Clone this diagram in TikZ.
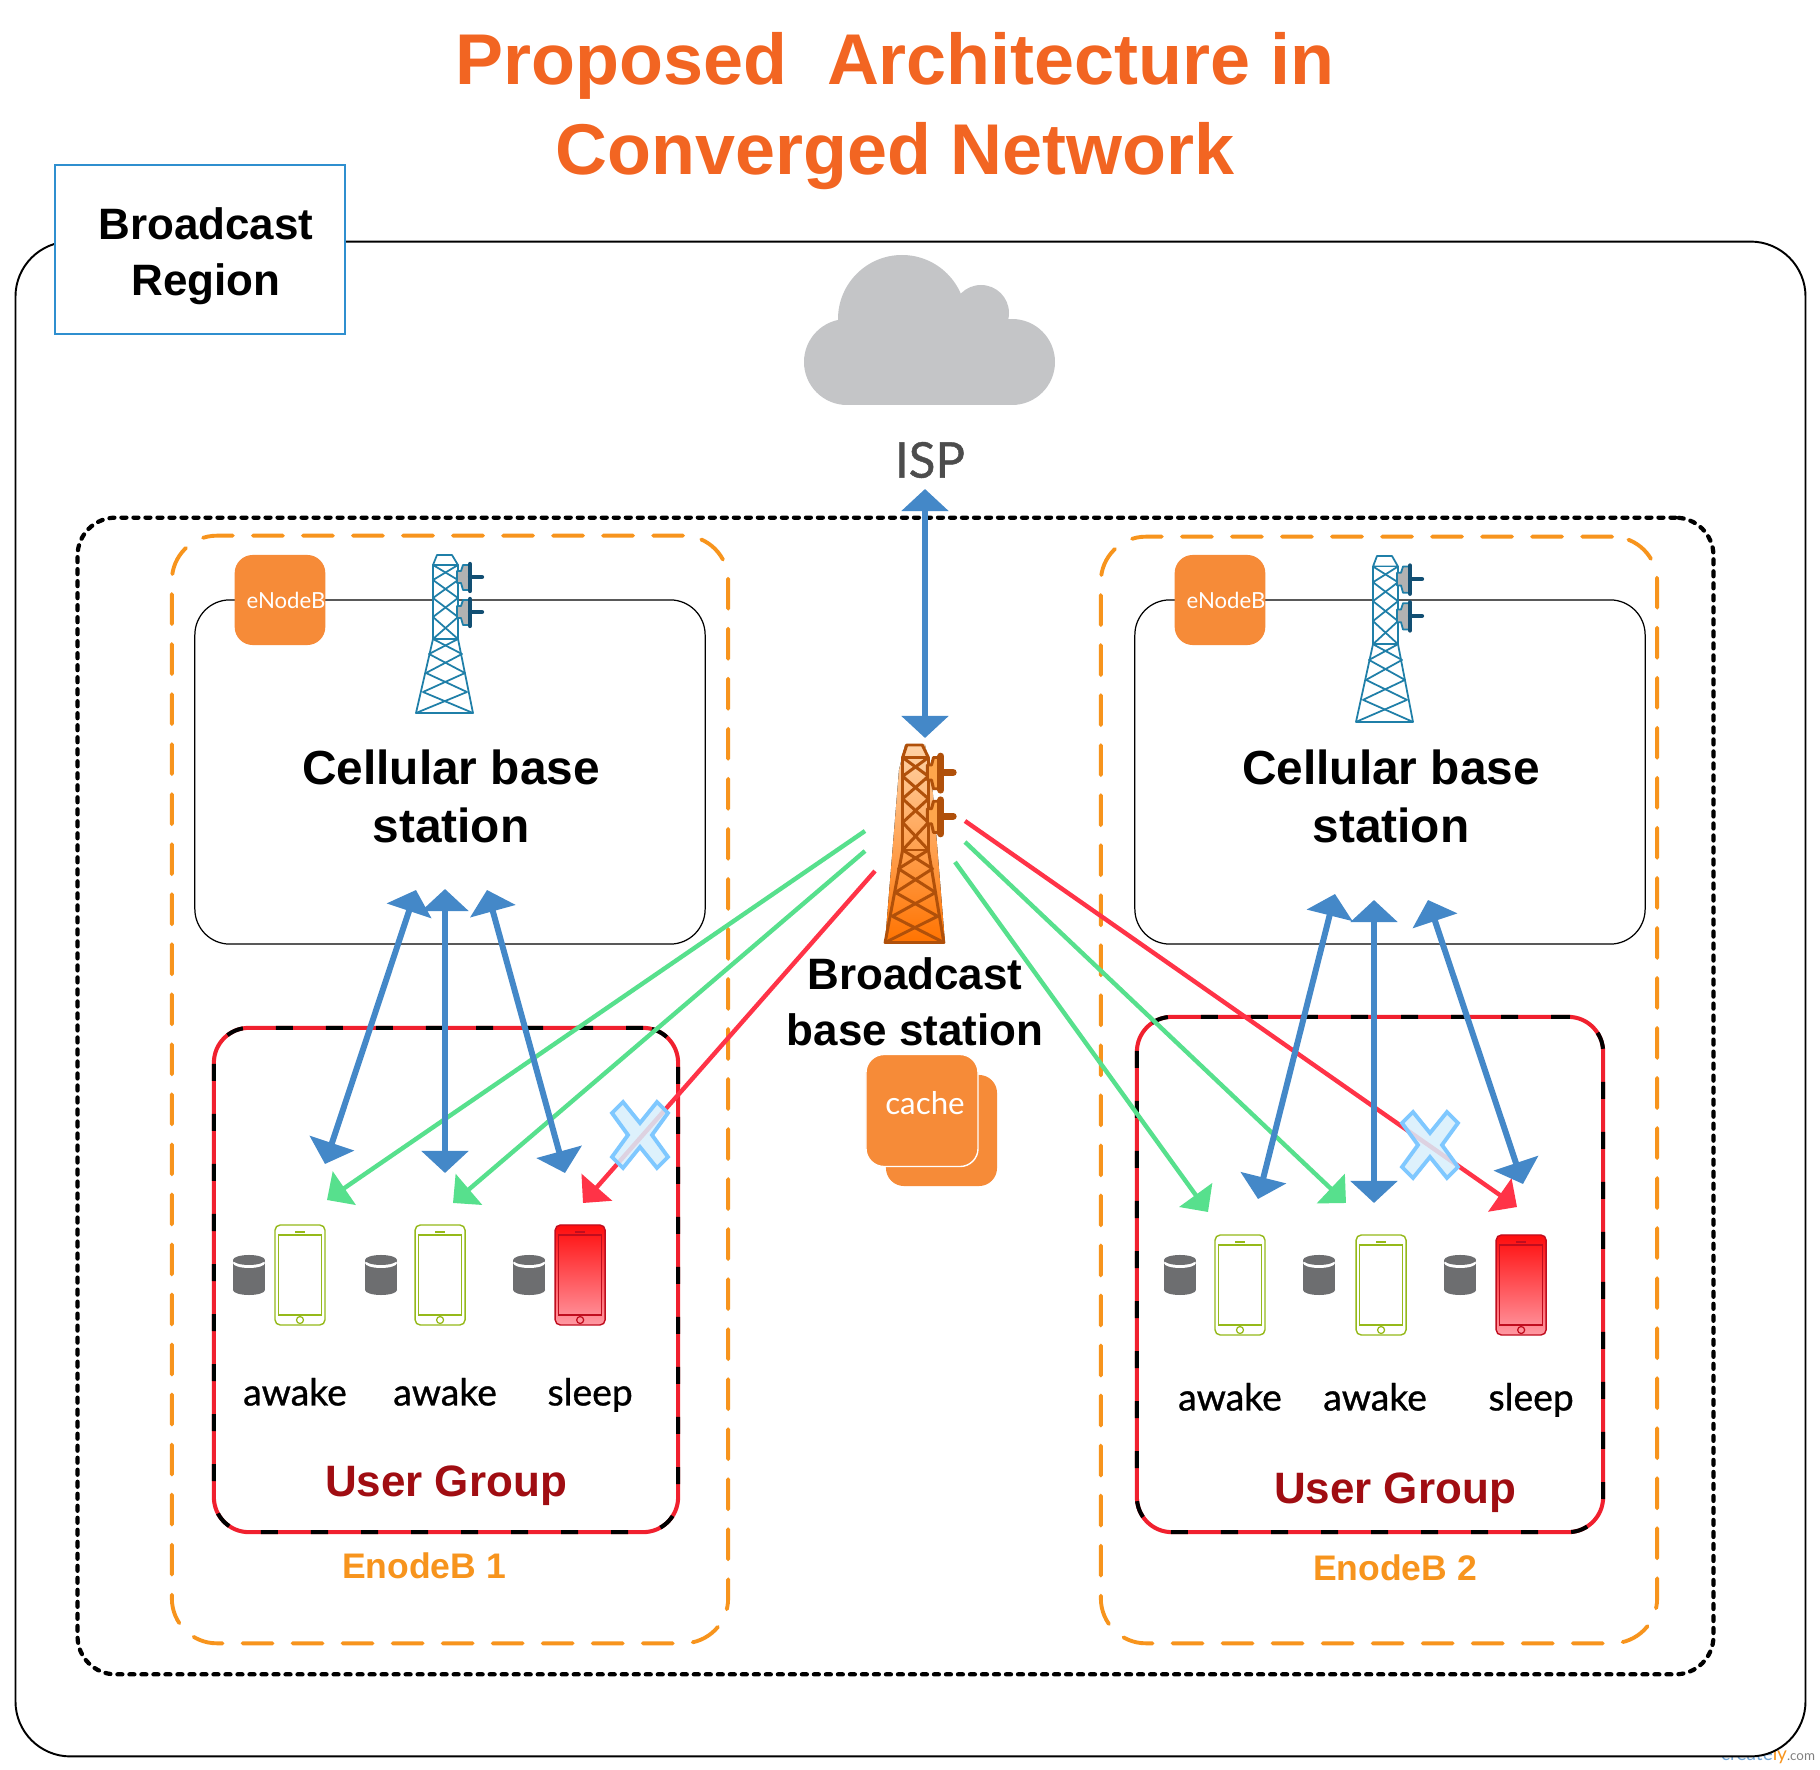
\documentclass[tikz,border=0pt]{standalone}
\usepackage{fontspec}
\setmainfont{Liberation Sans}
\newfontfamily\latofont{Lato}
\newfontfamily\latoheavy[FakeBold=0.9]{Lato}
\usetikzlibrary{shapes.geometric, arrows.meta, positioning, calc}

\definecolor{titleorange}{HTML}{F26522}
\definecolor{boxorange}{HTML}{F68B38}
\definecolor{dashorange}{HTML}{F7941D}
\definecolor{regionblue}{HTML}{2F8FCF}
\definecolor{linkblue}{HTML}{4488C8}
\definecolor{linkgreen}{HTML}{57E08D}
\definecolor{linkred}{HTML}{FF3347}
\definecolor{groupred}{HTML}{F0202E}
\definecolor{groupdark}{HTML}{A00D12}
\definecolor{cloudgray}{HTML}{C4C5C7}
\definecolor{drumgray}{HTML}{6D6E70}
\definecolor{phonegreen}{HTML}{95B91A}
\definecolor{phonered}{HTML}{C00D1E}
\definecolor{masttblue}{HTML}{1F7FA8}
\definecolor{dishdark}{HTML}{124F73}
\definecolor{mastbrown}{HTML}{B0500A}
\definecolor{blockedge}{HTML}{7FC8FF}
\definecolor{blockfill}{HTML}{D8EFFC}

% lattice tower: x, y of the top, xscale, yscale, lattice, dish fill, dish back, mast options, width
\newcommand{\latticetower}[9]{
  \begin{scope}[shift={(#1,#2)}, xscale=#3, yscale=#4, line width=#9, draw=#5, line join=round]
    \draw[#8] (-8,0) -- (7,0) -- (13,10) -- (-12,10) -- cycle;
    \draw[#8] (-12,10) rectangle (13,84);
    \draw (-12,10) -- (13,25) -- (-12,43) -- (13,62) -- (-12,84);
    \draw (13,10) -- (-12,25) -- (13,43) -- (-12,62) -- (13,84);
    \draw (-12,84) -- (-29,158) -- (28,158) -- (13,84);
    \draw (-12,84) -- (17,99) -- (-19,118) -- (22,137) -- (-29,158);
    \draw (13,84) -- (-16,99) -- (20,118) -- (-22,137) -- (28,158);
    \foreach \dy in {0,35} {
      \draw[fill=#6] (12,16+\dy) -- (16,16+\dy) -- (18,10+\dy) -- (25,10+\dy) -- (25,35+\dy) -- (18,35+\dy) -- (16,28+\dy) -- (12,28+\dy) -- cycle;
      \draw[draw=#7, line width=2.4*#9, line cap=round] (25,9+\dy) -- (25,36+\dy) (25,22+\dy) -- (37,22+\dy);
    }
  \end{scope}
}
% blocked link mark
\newcommand{\blockmark}[1]{
  \draw[shift={(#1)}, draw=blockedge, fill=blockfill, fill opacity=0.85, line width=1.1pt, line join=miter]
    (0,-12) -- (17,-33) -- (28,-22) -- (12,0) -- (28,22) -- (17,33) -- (0,12) -- (-17,33) -- (-28,22) -- (-12,0) -- (-28,-22) -- (-17,-33) -- cycle;
}

\begin{document}
\begin{tikzpicture}[
    x=0.01cm, y=-0.01cm,
    node distance=0.5cm,
    every node/.style={outer sep=0pt},
    headtext/.style={font=\bfseries\fontsize{12.5}{16}\selectfont, align=center},
    basetext/.style={font=\bfseries\fontsize{13.6}{16.5}\selectfont, align=center},
    statelabel/.style={font=\latoheavy\fontsize{10.6}{12}\selectfont, text height=7.5pt, text depth=2.5pt, inner sep=0pt},
    grouptext/.style={font=\bfseries\fontsize{12.5}{15}\selectfont, text=groupdark},
    enbtext/.style={font=\bfseries\fontsize{10.1}{12}\selectfont, text=dashorange},
    cellbox/.style={rectangle, draw, line width=0.35pt, rounded corners=0.35cm, minimum width=5.1cm, minimum height=3.44cm},
    enbbox/.style={rectangle, fill=boxorange, rounded corners=0.18cm, minimum width=0.9cm, minimum height=0.9cm, inner sep=0pt, text=white, font=\latofont\fontsize{6.3}{8}\selectfont},
    enbzone/.style={rectangle, draw=dashorange, line width=1.1pt, line cap=round, dash pattern=on 0.3cm off 0.2cm, rounded corners=0.45cm, minimum width=5.56cm},
    groupbox/.style={rectangle, draw=groupred, line width=1.15pt, rounded corners=0.35cm, postaction={draw=black, dash pattern=on 0.17cm off 0.33cm}},
    phonebox/.style={rectangle, draw=#1, line width=0.4pt, rounded corners=1.5pt, minimum width=0.5cm, minimum height=1cm, inner sep=0pt,
      path picture={
        \draw[#1, sharp corners, line width=0.35pt] ($(path picture bounding box.north west)+(3.5,10)$) rectangle ($(path picture bounding box.south east)+(-3.5,-10)$);
        \draw[#1, line width=0.35pt] ($(path picture bounding box.south)+(0,-5)$) circle (3.5);
        \draw[#1, line width=0.5pt] ($(path picture bounding box.north)+(-5,7)$) -- ($(path picture bounding box.north)+(5,7)$);
      }},
    redphone/.style={phonebox=phonered, top color=red!95!white, bottom color=linkred!50!white},
    drum/.style={rectangle, minimum width=0.32cm, minimum height=0.4cm, inner sep=0pt,
      path picture={
        \fill[drumgray] ($(path picture bounding box.north west)+(0,5)$) rectangle ($(path picture bounding box.south east)+(0,-5)$);
        \fill[drumgray] ($(path picture bounding box.south)+(0,-5)$) ellipse (16 and 5);
        \fill[white] ($(path picture bounding box.north)+(0,8)$) ellipse (16 and 5);
        \fill[drumgray] ($(path picture bounding box.north)+(0,5)$) ellipse (16 and 5);
      }},
    bluelink/.style={draw=linkblue, line width=1.7pt, {Triangle[length=0.22cm, width=0.46cm]}-{Triangle[length=0.22cm, width=0.46cm]}},
    greenlink/.style={draw=linkgreen, line width=1.25pt, -{Triangle[length=0.21cm, width=0.4cm]}},
    redlink/.style={draw=linkred, line width=1.25pt, -{Triangle[length=0.21cm, width=0.4cm]}}
  ]
    \useasboundingbox (0,0) rectangle (1820,1770);

    % Watermark, cut by the outer box
    \node[font=\latofont\fontsize{5.4}{7}\selectfont, text=linkblue!75, anchor=base east, inner sep=0pt] (mark) at (1815,1760) {create\textcolor{dashorange}{ly}\textcolor{gray}{\fontsize{3.8}{5}\selectfont.com}};

    % Outer region
    \node[rectangle, draw, fill=white, line width=0.55pt, rounded corners=0.55cm, minimum width=17.89cm, minimum height=15.14cm] (outer) at (910.5,999) {};
    \node[rectangle, draw=regionblue, fill=white, line width=0.4pt, minimum width=2.9cm, minimum height=1.69cm] (region) at (200,249.5) {};
    \node[headtext] (regionname) at (206,256.5) {Broadcast\\Region};

    % Title
    \node[font=\bfseries\fontsize{20.45}{25.4}\selectfont, text=titleorange, align=center] (title) at (895,111) {Proposed\ \ Architecture in\\Converged Network};

    % Cloud
    \fill[cloudgray] (902,319) circle (64);
    \fill[cloudgray] (981,313) circle (28);
    \fill[cloudgray] (847,362) circle (43);
    \fill[cloudgray] (1012,362) circle (43);
    \fill[cloudgray] (847,340) rectangle (1012,405);
    \fill[cloudgray] (902,310) rectangle (985,345);
    \node[font=\latoheavy\fontsize{14}{16}\selectfont, text=black!70] (isp) at (930,460) {ISP};

    % Dashed zones
    \node[rectangle, draw, line width=1.2pt, line cap=round, dash pattern=on 0.05cm off 0.07cm, rounded corners=0.38cm, minimum width=16.35cm, minimum height=11.56cm] (core) at (895.5,1096) {};
    \node[enbzone, minimum height=11.07cm] (zoneA) at (450,1089.5) {};
    \node[enbzone, minimum height=11.06cm] (zoneB) at (1379,1090) {};

    % Cellular boxes
    \node[cellbox] (cellA) at (450,772) {};
    \node[cellbox] (cellB) at (1390,772) {};
    \node[enbbox] (enbA) at (280,600) {\hspace*{0.12cm}eNodeB};
    \node[enbbox] (enbB) at (1220,600) {\hspace*{0.12cm}eNodeB};
    \latticetower{445}{555}{1}{1}{masttblue}{gray!60}{dishdark}{fill=white}{0.5pt}
    \latticetower{1385}{556}{1}{1.05}{masttblue}{gray!60}{dishdark}{fill=white}{0.5pt}
    \node[basetext] (baseA) at ($(cellA.center)+(1,24)$) {Cellular base\\station};
    \node[basetext] (baseB) at ($(cellB.center)+(1,24)$) {Cellular base\\station};

    % User groups
    \node[groupbox, minimum width=4.64cm, minimum height=5.04cm] (groupA) at (446,1280) {};
    \node[groupbox, minimum width=4.66cm, minimum height=5.15cm] (groupB) at (1370,1274.5) {};
    \node[grouptext] (userA) at (446,1486) {User Group};
    \node[grouptext] (userB) at (1395,1493) {User Group};
    \node[enbtext, below=0.09cm of groupA, xshift=-0.22cm] (nameA) {EnodeB 1};
    \node[enbtext, below=0.11cm of groupB, xshift=0.25cm] (nameB) {EnodeB 2};

    % Phones of group 1
    \node[phonebox=phonegreen] (phoneA) at (300,1275) {};
    \node[phonebox=phonegreen, right=0.9cm of phoneA] (phoneB) {};
    \node[redphone, right=0.9cm of phoneB] (phoneC) {};
    \node[drum, left=0.1cm of phoneA] (drumA) {};
    \node[drum, left=0.18cm of phoneB] (drumB) {};
    \node[drum, left=0.1cm of phoneC] (drumC) {};
    \node[statelabel, below=0.54cm of phoneA, xshift=-0.05cm] (stateA) {awake};
    \node[statelabel, below=0.54cm of phoneB, xshift=0.05cm] (stateB) {awake};
    \node[statelabel, below=0.54cm of phoneC, xshift=0.1cm] (stateC) {sleep};

    % Phones of group 2
    \node[phonebox=phonegreen] (phoneD) at (1240,1285) {};
    \node[phonebox=phonegreen, right=0.91cm of phoneD] (phoneE) {};
    \node[redphone, right=0.9cm of phoneE] (phoneF) {};
    \node[drum, left=0.19cm of phoneD, yshift=0.1cm] (drumD) {};
    \node[drum, left=0.21cm of phoneE, yshift=0.1cm] (drumE) {};
    \node[drum, left=0.2cm of phoneF, yshift=0.1cm] (drumF) {};
    \node[statelabel, below=0.49cm of phoneD, xshift=-0.1cm] (stateD) {awake};
    \node[statelabel, below=0.49cm of phoneE, xshift=-0.06cm] (stateE) {awake};
    \node[statelabel, below=0.49cm of phoneF, xshift=0.1cm] (stateF) {sleep};

    % Broadcast tower
    \fill[top color=orange!35!white, bottom color=orange!90!red] (905,745) -- (925,745) -- (931,770) -- (945,943) -- (885,943) -- (899,770) -- cycle;
    \latticetower{915}{745}{1.03}{1.25}{mastbrown}{orange!70!white}{mastbrown}{}{0.85pt}
    \node[headtext] (bsname) at (915,1002) {Broadcast\\base station};

    % Cache
    \node[rectangle, fill=boxorange, rounded corners=0.18cm, minimum width=1.11cm, minimum height=1.11cm] (cacheback) at (941.5,1130.5) {};
    \node[rectangle, draw=white, fill=boxorange, line width=0.4pt, rounded corners=0.18cm, minimum width=1.12cm, minimum height=1.12cm] (cache) at (922,1110.5) {};
    \node[text=white, font=\latofont\fontsize{8.9}{10}\selectfont] (cachetext) at (925,1103) {cache};

    % Link ends
    \coordinate (ispend) at (925,489);
    \coordinate (bsend) at (925,738);
    \coordinate (upA) at (416,890);
    \coordinate (upB) at (445,889);
    \coordinate (upC) at (487,890);
    \coordinate (downA) at (325,1164);
    \coordinate (downB) at (445,1173);
    \coordinate (downC) at (565,1173);
    \coordinate (upD) at (1335,894);
    \coordinate (upE) at (1374,900);
    \coordinate (upF) at (1428,900);
    \coordinate (downD) at (1258,1199);
    \coordinate (downE) at (1374,1203);
    \coordinate (downF) at (1523,1184);
    \coordinate (leftG) at (865,831);
    \coordinate (leftH) at (865,851);
    \coordinate (leftR) at (875,871);
    \coordinate (rightG) at (955,862);
    \coordinate (rightH) at (965,842);
    \coordinate (rightR) at (965,821);
    \coordinate (tipA) at (327,1200);
    \coordinate (tipB) at (453,1203);
    \coordinate (tipC) at (583,1203);
    \coordinate (tipD) at (1208,1212);
    \coordinate (tipE) at (1346,1203);
    \coordinate (tipF) at (1517,1207);
    \coordinate (crossA) at (640,1135);
    \coordinate (crossB) at (1430,1145);

    % Arrows
    \draw[bluelink] (ispend) -- (bsend);
    \draw[greenlink] (leftG) -- (tipA);
    \draw[greenlink] (leftH) -- (tipB);
    \draw[redlink] (leftR) -- (tipC);
    \draw[greenlink] (rightG) -- (tipD);
    \draw[greenlink] (rightH) -- (tipE);
    \draw[redlink] (rightR) -- (tipF);
    \draw[bluelink] (upA) -- (downA);
    \draw[bluelink] (upB) -- (downB);
    \draw[bluelink] (upC) -- (downC);
    \draw[bluelink] (upD) -- (downD);
    \draw[bluelink] (upE) -- (downE);
    \draw[bluelink] (upF) -- (downF);

    % Blocked links
    \blockmark{crossA}
    \blockmark{crossB}
  \end{tikzpicture}
\end{document}
